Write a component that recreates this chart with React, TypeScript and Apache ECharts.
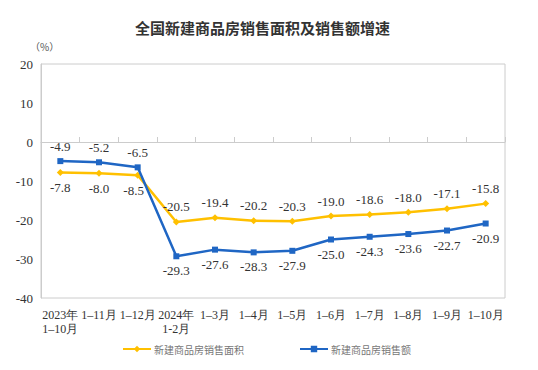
import React, { useEffect, useRef } from "react";
import * as echarts from "echarts";

const categories = [
  "2023年\n1–10月", "1–11月", "1–12月", "2024年\n1-2月", "1–3月", "1–4月",
  "1–5月", "1–6月", "1–7月", "1–8月", "1–9月", "1–10月",
];
const areaGrowth = [-7.8, -8.0, -8.5, -20.5, -19.4, -20.2, -20.3, -19.0, -18.6, -18.0, -17.1, -15.8];
const salesGrowth = [-4.9, -5.2, -6.5, -29.3, -27.6, -28.3, -27.9, -25.0, -24.3, -23.6, -22.7, -20.9];
const seriesNames = ["新建商品房销售面积", "新建商品房销售额"];

const serif = "Liberation Serif, Times New Roman, DejaVu Serif, serif";

export default function App() {
  const ref = useRef<HTMLDivElement>(null);
  useEffect(() => {
    const chart = echarts.init(ref.current!, null, { renderer: "svg" });
    const labelStyle = {
      show: true,
      fontFamily: serif,
      fontSize: 13,
      color: "#333",
      formatter: (p: any) => p.value.toFixed(1),
    };
    chart.setOption({
      animation: false,
      backgroundColor: "#fff",
      title: {
        text: "全国新建商品房销售面积及销售额增速",
        left: 130,
        top: 15,
        textStyle: { fontFamily: "Noto Sans CJK SC", fontSize: 15, fontWeight: "bold", color: "#333" },
      },
      graphic: [
        {
          type: "text",
          left: 30,
          top: 41,
          style: { text: "（%）", fontSize: 10, fill: "#555", fontFamily: "Noto Sans CJK SC" },
        },
      ],
      legend: {
        left: 117,
        top: 339,
        itemWidth: 28,
        itemHeight: 8,
        itemGap: 55,
        textStyle: { fontSize: 10, color: "#777", fontFamily: "Noto Sans CJK SC", padding: [0, 0, 0, -2] },
        data: seriesNames,
      },
      grid: { left: 41, right: 33, top: 64, bottom: 72, show: true, borderColor: "#ccc", borderWidth: 1 },
      xAxis: {
        type: "category",
        data: categories,
        boundaryGap: true,
        axisLine: { show: true, lineStyle: { color: "#ccc" } },
        axisTick: { show: true, inside: true, length: 5, lineStyle: { color: "#ccc" } },
        axisLabel: { fontFamily: serif, fontSize: 12, color: "#333", margin: 10, interval: 0, lineHeight: 14 },
      },
      yAxis: {
        type: "value",
        min: -40,
        max: 20,
        interval: 10,
        splitLine: { show: false },
        axisLine: { show: true, lineStyle: { color: "#ccc" } },
        axisTick: { show: false },
        axisLabel: { fontFamily: serif, fontSize: 13, color: "#333", margin: 8 },
      },
      series: [
        {
          name: seriesNames[0],
          type: "line",
          data: areaGrowth.map((v, i) => ({
            value: v,
            label: { position: i < 3 ? "bottom" : "top", distance: 5, offset: i === 2 ? [-4, 0] : [0, 0] },
          })),
          symbol: "diamond",
          symbolSize: 7,
          itemStyle: { color: "#FFC000" },
          lineStyle: { color: "#FFC000", width: 2.5 },
          label: labelStyle,
          z: 3,
        },
        {
          name: seriesNames[1],
          type: "line",
          data: salesGrowth.map((v, i) => ({
            value: v,
            label: { position: i < 3 ? "top" : "bottom", distance: 5 },
          })),
          symbol: "rect",
          symbolSize: 6,
          itemStyle: { color: "#1F66C4" },
          lineStyle: { color: "#1F66C4", width: 2.5 },
          label: labelStyle,
          z: 4,
        },
      ],
    });
    return () => chart.dispose();
  }, []);
  return <div ref={ref} style={{ width: 538, height: 370, position: "absolute", left: 0, top: 0 }} />;
}
